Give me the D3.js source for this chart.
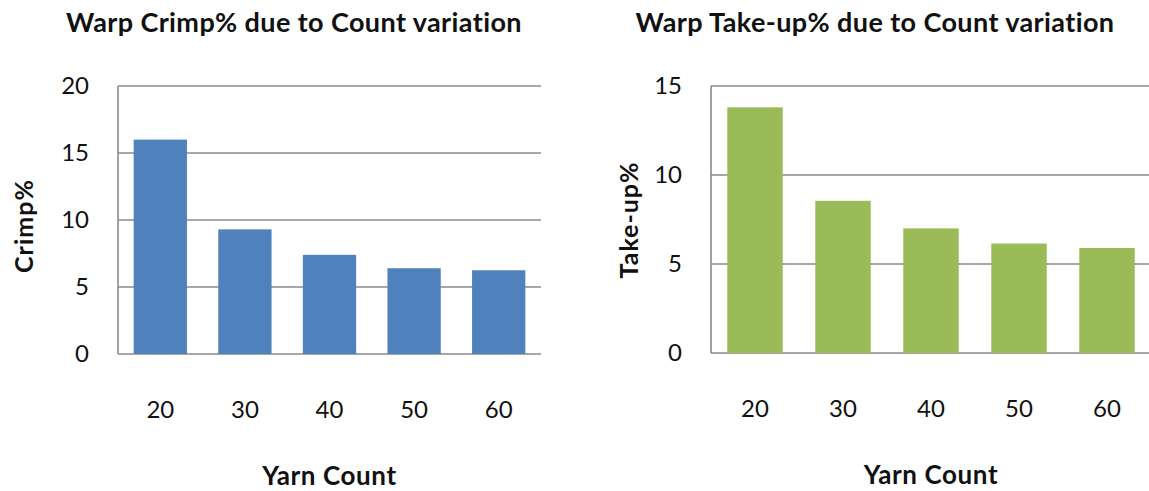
<!DOCTYPE html>
<html>
<head>
<meta charset="utf-8">
<script src="https://cdn.jsdelivr.net/npm/d3@7"></script>
<style>
  html, body { margin: 0; padding: 0; background: #fff; }
  svg { display: block; }
  text { font-family: Lato, "Open Sans", "Liberation Sans", sans-serif; fill: #111; }
</style>
</head>
<body>
<svg id="chart" width="1149" height="491"></svg>
<script>
// Yarn counts on the x axis
const yarnCounts = ["20", "30", "40", "50", "60"];

// Warp crimp % per yarn count
const crimpValues = [16.0, 9.3, 7.4, 6.4, 6.25];
const crimpTicks = [0, 5, 10, 15, 20];

// Warp take-up % per yarn count
const takeupValues = [13.8, 8.55, 7.0, 6.15, 5.9];
const takeupTicks = [0, 5, 10, 15];

const svg = d3.select("#chart");
const gridColor = "#8a8a8a";

function drawPanel(opts) {
  const { left, right, top, bottom, values, ticks, yMax, color, title, yTitle, titleX, yTitleX, yTitleY } = opts;
  const g = svg.append("g");

  const x = d3.scaleBand()
    .domain(yarnCounts)
    .range([left, right])
    .paddingInner(0.37)
    .paddingOuter(0.185);

  const y = d3.scaleLinear().domain([0, yMax]).range([bottom, top]);

  // horizontal gridlines (including the baseline)
  g.append("g")
    .selectAll("line")
    .data(ticks)
    .join("line")
    .attr("x1", left)
    .attr("x2", right)
    .attr("y1", d => y(d))
    .attr("y2", d => y(d))
    .attr("stroke", gridColor)
    .attr("stroke-width", 1.6);

  // bars
  g.append("g")
    .selectAll("rect")
    .data(values)
    .join("rect")
    .attr("x", (d, i) => x(yarnCounts[i]))
    .attr("width", x.bandwidth())
    .attr("y", d => y(d))
    .attr("height", d => y(0) - y(d))
    .attr("fill", color);

  // vertical axis line
  g.append("line")
    .attr("x1", left).attr("x2", left)
    .attr("y1", top).attr("y2", bottom)
    .attr("stroke", gridColor)
    .attr("stroke-width", 1.6);

  // y tick labels
  const yAxis = d3.axisLeft(y).tickValues(ticks).tickSize(0).tickPadding(29);
  const ya = g.append("g").attr("transform", `translate(${left},0)`).call(yAxis);
  ya.select(".domain").remove();
  ya.selectAll("text")
    .style("font-family", "Lato, 'Open Sans', sans-serif")
    .style("font-size", "24px")
    .attr("fill", "#111");

  // x tick labels
  const xAxis = d3.axisBottom(x).tickSize(0).tickPadding(0);
  const xa = g.append("g").attr("transform", `translate(0,${bottom + 64})`).call(xAxis);
  xa.select(".domain").remove();
  xa.selectAll("text")
    .attr("dy", "0")
    .style("font-family", "Lato, 'Open Sans', sans-serif")
    .style("font-size", "24px")
    .attr("fill", "#111");

  // axis title (x)
  g.append("text")
    .attr("x", (left + right) / 2)
    .attr("y", bottom + 131)
    .attr("text-anchor", "middle")
    .style("font-weight", "bold")
    .style("font-size", "26px")
    .style("letter-spacing", "0.6px")
    .text("Yarn Count");

  // axis title (y)
  g.append("text")
    .attr("transform", `translate(${yTitleX},${yTitleY}) rotate(-90)`)
    .attr("text-anchor", "middle")
    .style("font-weight", "bold")
    .style("font-size", "25px")
    .style("letter-spacing", "1px")
    .text(yTitle);

  // chart title
  g.append("text")
    .attr("x", titleX)
    .attr("y", 32)
    .attr("text-anchor", "middle")
    .style("font-weight", "bold")
    .style("font-size", "27px")
    .style("letter-spacing", "0.4px")
    .text(title);
}

drawPanel({
  left: 118, right: 541, top: 86, bottom: 354,
  values: crimpValues, ticks: crimpTicks, yMax: 20,
  color: "#4f81bd",
  title: "Warp Crimp% due to Count variation",
  yTitle: "Crimp%",
  titleX: 294, yTitleX: 33, yTitleY: 226
});

drawPanel({
  left: 711, right: 1151, top: 86, bottom: 353,
  values: takeupValues, ticks: takeupTicks, yMax: 15,
  color: "#9bbb59",
  title: "Warp Take-up% due to Count variation",
  yTitle: "Take-up%",
  titleX: 875, yTitleX: 638, yTitleY: 220
});
</script>
</body>
</html>
